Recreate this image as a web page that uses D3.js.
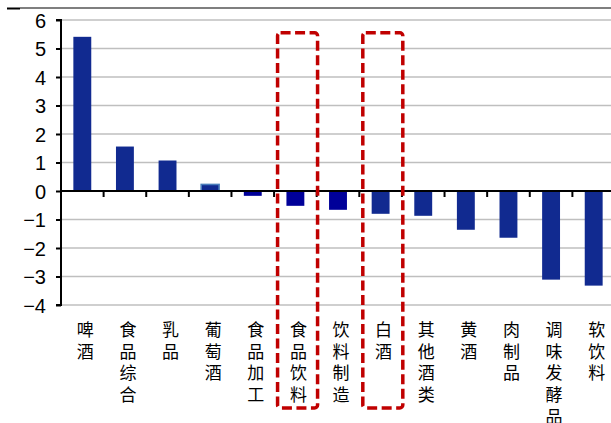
<!DOCTYPE html>
<html><head><meta charset="utf-8">
<script src="https://cdn.jsdelivr.net/npm/d3@7"></script>
<style>body{margin:0;background:#fff}svg{display:block}</style>
</head><body>
<svg id="c" width="611" height="423"></svg>
<script>
const categories = ["啤酒","食品综合","乳品","葡萄酒","食品加工","食品饮料","饮料制造","白酒","其他酒类","黄酒","肉制品","调味发酵品","软饮料"];
const values = [5.41, 1.56, 1.07, 0.23, -0.17, -0.52, -0.66, -0.80, -0.87, -1.36, -1.64, -3.11, -3.32];
const barColors = ["#112A90","#112A90","#112A90","#112A90","#000099","#000099","#000099","#112A90","#112A90","#112A90","#112A90","#112A90","#112A90"];
const yTicks = [6,5,4,3,2,1,0,-1,-2,-3,-4];
const highlighted = ["食品饮料","白酒"];
const highlightTop = 5.55;

const svg = d3.select("#c");
const x = d3.scaleBand().domain(categories).range([61, 615]).paddingInner(0.58).paddingOuter(0.29);
const y = d3.scaleLinear().domain([-4, 6]).range([305, 20]);
const step = x.step();

// top rule
svg.append("line").attr("x1",20).attr("x2",611).attr("y1",8).attr("y2",8).attr("stroke","#000").attr("stroke-width",1.2);
svg.append("line").attr("x1",7).attr("x2",20).attr("y1",8.5).attr("y2",8.5).attr("stroke","#000").attr("stroke-width",2);

// gridlines
svg.append("g").selectAll("line").data(yTicks.filter(d=>d!==0)).join("line")
  .attr("x1",61).attr("x2",611).attr("y1",d=>y(d)).attr("y2",d=>y(d))
  .attr("stroke","#BFBFBF").attr("stroke-width",1.6);

// bars
svg.append("g").selectAll("rect").data(categories).join("rect")
  .attr("x",(d)=>x(d))
  .attr("width",x.bandwidth())
  .attr("y",(d,i)=>y(Math.max(0,values[i])))
  .attr("height",(d,i)=>Math.abs(y(values[i])-y(0)))
  .attr("fill",(d,i)=>barColors[i])
  .attr("stroke",(d)=>d==="葡萄酒"?"#4A7EBB":"none")
  .attr("stroke-width",1.6);

// y axis
const yAxis = d3.axisLeft(y).tickValues(yTicks).tickSize(5).tickFormat(d3.format("d"));
const ya = svg.append("g").attr("transform","translate(61,0)").call(yAxis);
ya.select(".domain").attr("stroke","#000").attr("stroke-width",2).attr("d","M-5,"+y(6)+"H0V"+y(-4)+"H-5");
ya.selectAll(".tick line").attr("stroke","#000").attr("stroke-width",2);
ya.selectAll(".tick text").attr("x",-15).attr("dy","0.36em")
  .attr("font-family","Liberation Sans, Arial, sans-serif").attr("font-size",20).attr("fill","#000");

// zero axis
svg.append("line").attr("x1",61).attr("x2",611).attr("y1",y(0)).attr("y2",y(0)).attr("stroke","#000").attr("stroke-width",2);
svg.append("g").selectAll("line").data(categories.slice(1)).join("line")
  .attr("x1",d=>x(d)-x.paddingOuter()*step).attr("x2",d=>x(d)-x.paddingOuter()*step)
  .attr("y1",y(0)).attr("y2",y(0)+6).attr("stroke","#000").attr("stroke-width",2);

// category labels (vertical)
const lab = svg.append("g").selectAll("text").data(categories).join("text")
  .attr("font-family","Noto Sans CJK SC, sans-serif").attr("font-size",17).attr("fill","#000")
  .attr("text-anchor","middle");
lab.each(function(d){
  const t = d3.select(this);
  const cx = x(d) + x.bandwidth()/2 + 3;
  Array.from(d).forEach((ch,i)=>{
    t.append("tspan").attr("x",cx).attr("y",336 + i*21.7).text(ch);
  });
});

// highlight boxes
svg.append("g").selectAll("rect").data(highlighted).join("rect")
  .attr("x",d=>x(d)-x.paddingOuter()*step+3.5)
  .attr("width",40)
  .attr("y",y(highlightTop))
  .attr("height",408-y(highlightTop))
  .attr("rx",3)
  .attr("fill","none").attr("stroke","#C00000").attr("stroke-width",3.5)
  .attr("stroke-dasharray","10,4.5");
</script>
</body></html>
